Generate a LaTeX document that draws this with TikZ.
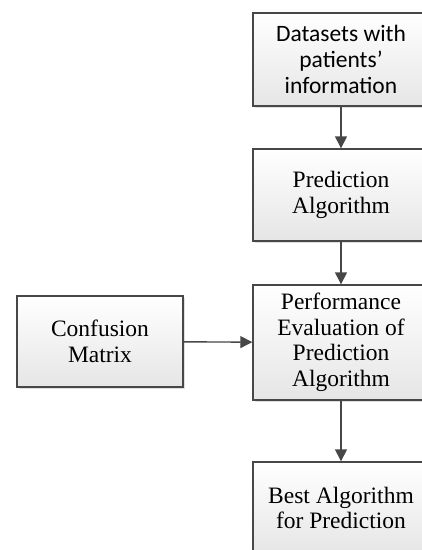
\documentclass[tikz,border=0pt]{standalone}
\usepackage{fontspec}
\setmainfont{Liberation Serif}
\newfontfamily\calfont{Carlito}
\usetikzlibrary{arrows.meta,shadows}
\tikzset{
  stepbox/.style={draw=black!72, line width=1.4pt, top color=white, bottom color=black!10,
    drop shadow={shadow xshift=1.5pt, shadow yshift=-1.5pt, opacity=0.25, fill=black!50},
    align=center, inner sep=0pt, font=\fontsize{23.5}{25.5}\selectfont},
  flow/.style={draw=black!72, line width=1.4pt, -{Triangle[length=12pt,width=12pt]}}
}
\begin{document}
\begin{tikzpicture}[x=1pt,y=1pt]
\useasboundingbox (0,0) rectangle (422,-550);
\clip (0,0) rectangle (422,-550);
\fill[white] (0,0) rectangle (422,-550);
\node[stepbox, minimum width=176pt, minimum height=93pt, font=\calfont\fontsize{23.5}{26}\selectfont] (data) at (341,-59.5) {Datasets with\\patients’\\information};
\node[stepbox, minimum width=176pt, minimum height=92pt] (pred) at (341,-195) {Prediction\\Algorithm};
\node[stepbox, minimum width=176pt, minimum height=115pt] (perf) at (341,-342.5) {Performance\\Evaluation of\\Prediction\\Algorithm};
\node[stepbox, minimum width=166pt, minimum height=91pt] (conf) at (100,-341.5) {Confusion\\Matrix};
\node[stepbox, minimum width=176pt, minimum height=92pt] (best) at (341,-508) {Best Algorithm\\for Prediction};
\draw[flow] (data) -- (pred);
\draw[flow] (pred) -- (perf);
\draw[flow] (perf) -- (best);
\draw[flow] (conf) -- (perf);
\end{tikzpicture}
\end{document}
